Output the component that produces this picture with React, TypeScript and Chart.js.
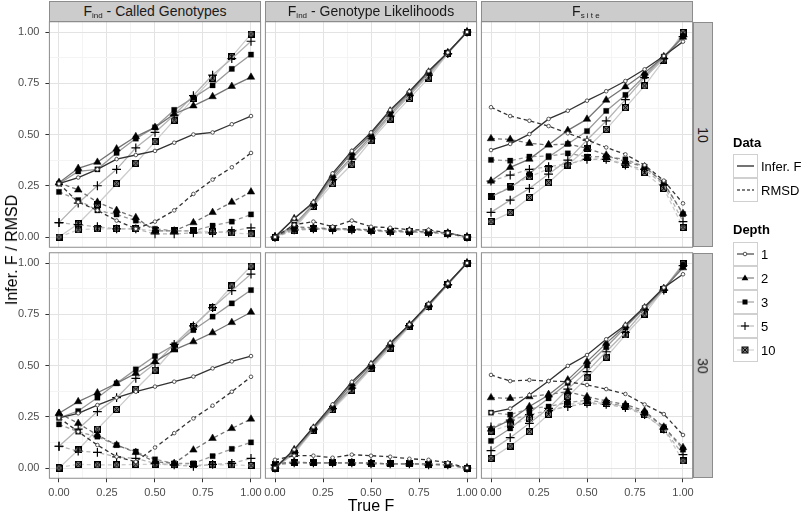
import React, { useEffect, useRef } from 'react';
import { Chart, registerables } from 'chart.js';
Chart.register(...registerables);

// ---------- data ----------
const TRUE_F = [0, 0.1, 0.2, 0.3, 0.4, 0.5, 0.6, 0.7, 0.8, 0.9, 1.0];
const DEPTHS = ['1', '2', '3', '5', '10'];
const DATA_LABELS = ['Infer. F', 'RMSD'];
const COL_TITLES = ['Called Genotypes', 'Genotype Likelihoods', ''];
const ROW_TITLES = ['10', '30'];
const AXIS_TICKS = [0, 0.25, 0.5, 0.75, 1];

// rows = depth 1, 2, 3, 5, 10
const CG10_INFER = [
  [0.26, 0.29, 0.33, 0.38, 0.40, 0.42, 0.46, 0.50, 0.51, 0.55, 0.59],
  [0.265, 0.335, 0.365, 0.43, 0.49, 0.535, 0.60, 0.64, 0.685, 0.735, 0.78],
  [0.26, 0.32, 0.33, 0.41, 0.48, 0.535, 0.62, 0.68, 0.74, 0.82, 0.89],
  [0.07, 0.165, 0.25, 0.33, 0.435, 0.51, 0.595, 0.69, 0.79, 0.87, 0.955],
  [0.0, 0.065, 0.16, 0.26, 0.36, 0.465, 0.57, 0.675, 0.775, 0.88, 0.99],
];
const CG10_RMSD = [
  [0.26, 0.17, 0.13, 0.08, 0.04, 0.075, 0.13, 0.21, 0.28, 0.34, 0.41],
  [0.265, 0.23, 0.17, 0.13, 0.095, 0.03, 0.03, 0.07, 0.12, 0.17, 0.22],
  [0.22, 0.18, 0.13, 0.11, 0.08, 0.04, 0.03, 0.03, 0.055, 0.075, 0.11],
  [0.07, 0.06, 0.05, 0.04, 0.04, 0.015, 0.015, 0.02, 0.02, 0.03, 0.045],
  [0.0, 0.035, 0.04, 0.04, 0.04, 0.03, 0.03, 0.03, 0.025, 0.02, 0.015],
];
const CG30_INFER = [
  [0.245, 0.267, 0.307, 0.343, 0.372, 0.397, 0.421, 0.446, 0.486, 0.52, 0.546],
  [0.267, 0.324, 0.367, 0.413, 0.462, 0.519, 0.576, 0.616, 0.66, 0.71, 0.76],
  [0.245, 0.278, 0.343, 0.413, 0.481, 0.546, 0.6, 0.673, 0.738, 0.803, 0.868],
  [0.106, 0.19, 0.275, 0.343, 0.437, 0.51, 0.603, 0.693, 0.782, 0.865, 0.946],
  [0.0, 0.088, 0.19, 0.286, 0.384, 0.478, 0.584, 0.69, 0.782, 0.888, 0.985],
];
const CG30_RMSD = [
  [0.245, 0.177, 0.112, 0.055, 0.03, 0.1, 0.17, 0.242, 0.304, 0.372, 0.445],
  [0.267, 0.218, 0.161, 0.112, 0.076, 0.03, 0.023, 0.088, 0.145, 0.193, 0.239],
  [0.213, 0.177, 0.153, 0.112, 0.08, 0.042, 0.023, 0.023, 0.058, 0.093, 0.125],
  [0.106, 0.083, 0.076, 0.054, 0.047, 0.023, 0.015, 0.008, 0.018, 0.023, 0.047],
  [0.003, 0.018, 0.015, 0.015, 0.018, 0.018, 0.015, 0.015, 0.015, 0.015, 0.012],
];
const GL10_INFER = [
  [0, 0.09, 0.17, 0.31, 0.42, 0.51, 0.62, 0.71, 0.81, 0.90, 1.0],
  [0, 0.09, 0.165, 0.30, 0.41, 0.50, 0.615, 0.705, 0.805, 0.90, 1.0],
  [0, 0.06, 0.16, 0.29, 0.39, 0.49, 0.60, 0.70, 0.80, 0.90, 1.0],
  [0, 0.05, 0.155, 0.28, 0.38, 0.48, 0.59, 0.69, 0.79, 0.895, 1.0],
  [0, 0.04, 0.15, 0.26, 0.355, 0.47, 0.575, 0.675, 0.775, 0.895, 1.0],
];
const GL10_RMSD = [
  [0, 0.06, 0.075, 0.05, 0.08, 0.05, 0.045, 0.035, 0.035, 0.02, 0.0],
  [0, 0.05, 0.045, 0.04, 0.04, 0.035, 0.03, 0.03, 0.025, 0.02, 0.0],
  [0, 0.04, 0.04, 0.04, 0.04, 0.03, 0.03, 0.025, 0.025, 0.015, 0.0],
  [0, 0.035, 0.04, 0.035, 0.035, 0.03, 0.025, 0.025, 0.02, 0.015, 0.0],
  [0, 0.03, 0.04, 0.04, 0.035, 0.03, 0.025, 0.025, 0.02, 0.015, 0.0],
];
const GL30_INFER = [
  [0, 0.09, 0.2, 0.31, 0.42, 0.51, 0.61, 0.70, 0.80, 0.90, 1.0],
  [0, 0.09, 0.195, 0.30, 0.41, 0.505, 0.605, 0.70, 0.795, 0.90, 1.0],
  [0, 0.08, 0.19, 0.295, 0.395, 0.495, 0.60, 0.695, 0.795, 0.895, 1.0],
  [0, 0.075, 0.19, 0.29, 0.39, 0.49, 0.595, 0.695, 0.79, 0.895, 1.0],
  [0, 0.07, 0.185, 0.285, 0.38, 0.485, 0.585, 0.69, 0.79, 0.895, 1.0],
];
const GL30_RMSD = [
  [0.04, 0.06, 0.06, 0.05, 0.065, 0.06, 0.055, 0.045, 0.04, 0.025, 0.0],
  [0.02, 0.03, 0.025, 0.025, 0.025, 0.025, 0.02, 0.02, 0.02, 0.015, 0.0],
  [0.02, 0.025, 0.025, 0.025, 0.025, 0.025, 0.02, 0.02, 0.02, 0.015, 0.0],
  [0.015, 0.025, 0.025, 0.025, 0.025, 0.02, 0.02, 0.02, 0.015, 0.015, 0.0],
  [0.015, 0.025, 0.025, 0.025, 0.025, 0.02, 0.02, 0.02, 0.015, 0.015, 0.0],
];
const FS10_INFER = [
  [0.424, 0.454, 0.502, 0.576, 0.616, 0.665, 0.711, 0.761, 0.818, 0.883, 0.953],
  [0.273, 0.34, 0.38, 0.45, 0.52, 0.575, 0.668, 0.733, 0.80, 0.88, 0.975],
  [0.197, 0.24, 0.307, 0.39, 0.454, 0.517, 0.615, 0.693, 0.785, 0.88, 0.98],
  [0.12, 0.18, 0.237, 0.307, 0.375, 0.473, 0.566, 0.67, 0.777, 0.87, 0.977],
  [0.075, 0.119, 0.193, 0.265, 0.351, 0.433, 0.525, 0.631, 0.737, 0.863, 0.997],
];
const FS10_RMSD = [
  [0.633, 0.59, 0.567, 0.541, 0.506, 0.473, 0.437, 0.403, 0.351, 0.275, 0.164],
  [0.48, 0.476, 0.457, 0.449, 0.454, 0.433, 0.40, 0.367, 0.343, 0.262, 0.115],
  [0.376, 0.372, 0.392, 0.395, 0.408, 0.392, 0.392, 0.379, 0.343, 0.265, 0.112],
  [0.273, 0.302, 0.33, 0.343, 0.356, 0.379, 0.379, 0.351, 0.33, 0.254, 0.075],
  [0.197, 0.245, 0.294, 0.332, 0.348, 0.389, 0.382, 0.356, 0.314, 0.237, 0.047],
];
const FS30_INFER = [
  [0.27, 0.29, 0.356, 0.424, 0.498, 0.551, 0.628, 0.698, 0.787, 0.88, 0.945],
  [0.19, 0.234, 0.30, 0.356, 0.43, 0.519, 0.608, 0.693, 0.782, 0.876, 0.977],
  [0.132, 0.193, 0.27, 0.34, 0.415, 0.50, 0.59, 0.685, 0.78, 0.875, 0.99],
  [0.085, 0.148, 0.218, 0.291, 0.385, 0.47, 0.567, 0.662, 0.771, 0.868, 0.987],
  [0.047, 0.107, 0.177, 0.262, 0.348, 0.44, 0.541, 0.649, 0.751, 0.873, 0.998],
];
const FS30_RMSD = [
  [0.454, 0.424, 0.429, 0.424, 0.421, 0.405, 0.385, 0.361, 0.31, 0.263, 0.161],
  [0.343, 0.34, 0.348, 0.359, 0.372, 0.348, 0.327, 0.31, 0.278, 0.2, 0.1],
  [0.27, 0.26, 0.29, 0.30, 0.32, 0.33, 0.32, 0.30, 0.27, 0.2, 0.09],
  [0.2, 0.234, 0.26, 0.28, 0.3, 0.315, 0.31, 0.295, 0.26, 0.19, 0.065],
  [0.18, 0.21, 0.24, 0.27, 0.31, 0.32, 0.315, 0.30, 0.26, 0.19, 0.035],
];

const PANELS = [
  { infer: CG10_INFER, rmsd: CG10_RMSD, row: 0, col: 0 },
  { infer: GL10_INFER, rmsd: GL10_RMSD, row: 0, col: 1 },
  { infer: FS10_INFER, rmsd: FS10_RMSD, row: 0, col: 2 },
  { infer: CG30_INFER, rmsd: CG30_RMSD, row: 1, col: 0 },
  { infer: GL30_INFER, rmsd: GL30_RMSD, row: 1, col: 1 },
  { infer: FS30_INFER, rmsd: FS30_RMSD, row: 1, col: 2 },
];

// ---------- layout / style ----------
const W = 810;
const H = 515;
const COL_LEFT = [49.4, 265.4, 481.4];
const PANEL_W = 211.2;
const ROW_TOP = [21.75, 252.75];
const PANEL_H = 225.5;
const XAXIS_H = 24;
const FONT = "'Liberation Sans', Arial, Helvetica, sans-serif";
const LINE_GREYS = ['#333333', '#747474', '#989898', '#B4B4B4', '#CCCCCC'];

function squareX(): HTMLCanvasElement {
  const c = document.createElement('canvas');
  c.width = 7;
  c.height = 7;
  const g = c.getContext('2d')!;
  g.fillStyle = '#7a7a7a';
  g.fillRect(0, 0, 7, 7);
  g.strokeStyle = '#000';
  g.lineWidth = 1;
  g.strokeRect(0.5, 0.5, 6, 6);
  g.beginPath();
  g.moveTo(1, 1);
  g.lineTo(6, 6);
  g.moveTo(6, 1);
  g.lineTo(1, 6);
  g.stroke();
  return c;
}

const isMajor = (v: number) => Math.abs(v * 4 - Math.round(v * 4)) < 1e-6;

const borderPlugin = {
  id: 'panelBorder',
  afterDraw(chart: any) {
    const { ctx, chartArea: a } = chart;
    ctx.save();
    ctx.strokeStyle = '#8C8C8C';
    ctx.lineWidth = 1;
    ctx.strokeRect(a.left, a.top, a.width, a.height);
    ctx.restore();
  },
};

function makeConfig(p: { infer: number[][]; rmsd: number[][]; row: number; col: number }, sqx: HTMLCanvasElement) {
  const styles: any[] = [
    { pointStyle: 'circle', pointRadius: 1.8, bg: '#ffffff', bc: '#444444', bw: 0.9 },
    { pointStyle: 'triangle', pointRadius: 4.3, bg: '#000000', bc: '#000000', bw: 0.5 },
    { pointStyle: 'rect', pointRadius: 3.7, bg: '#000000', bc: '#000000', bw: 0.3 },
    { pointStyle: 'cross', pointRadius: 4.4, bg: '#000000', bc: '#000000', bw: 1.2 },
    { pointStyle: sqx, pointRadius: 3.5, bg: '#000000', bc: '#000000', bw: 1 },
  ];
  const datasets: any[] = [];
  DEPTHS.forEach((d, i) => {
    [p.infer, p.rmsd].forEach((arr, m) => {
      const s = styles[i];
      datasets.push({
        label: `${DATA_LABELS[m]} / depth ${d}`,
        data: TRUE_F.map((x, k) => ({ x, y: arr[i][k] })),
        borderColor: LINE_GREYS[i],
        borderWidth: 1.3,
        borderDash: m === 1 ? [4, 3] : [],
        pointStyle: s.pointStyle,
        pointRadius: s.pointRadius,
        pointBackgroundColor: s.bg,
        pointBorderColor: s.bc,
        pointBorderWidth: s.bw,
        tension: 0,
        fill: false,
        clip: 6,
      });
    });
  });

  const left = p.col === 0 ? 0 : COL_LEFT[p.col];
  const yAxisW = p.col === 0 ? COL_LEFT[0] : 0;
  const right = W - (COL_LEFT[p.col] + PANEL_W);
  const top = ROW_TOP[p.row];
  const xAxisH = p.row === 1 ? XAXIS_H : 0;
  const bottom = H - (ROW_TOP[p.row] + PANEL_H) - xAxisH;
  const setTicks = (scale: any) => {
    const t: any[] = [];
    for (let k = 0; k <= 8; k++) t.push({ value: k * 0.125 });
    scale.ticks = t;
  };
  const gridColor = (ctx: any) => (ctx.tick && isMajor(ctx.tick.value) ? '#E3E3E3' : '#F4F4F4');
  const tickColor = (ctx: any) => (ctx.tick && isMajor(ctx.tick.value) ? '#333333' : 'rgba(0,0,0,0)');
  const label = (v: any) =>
    isMajor(Number(v)) && AXIS_TICKS.includes(Math.round(Number(v) * 100) / 100) ? Number(v).toFixed(2) : '';

  return {
    type: 'line',
    data: { datasets },
    options: {
      animation: false,
      responsive: false,
      events: [],
      layout: { padding: { left, right, top, bottom } },
      plugins: { legend: { display: false }, tooltip: { enabled: false } },
      scales: {
        x: {
          type: 'linear',
          min: -0.05,
          max: 1.05,
          afterBuildTicks: setTicks,
          afterFit: (s: any) => {
            s.height = xAxisH;
          },
          border: { display: false },
          grid: { color: gridColor, lineWidth: 1, drawTicks: p.row === 1, tickLength: 4, tickColor, tickWidth: 1 },
          ticks: {
            display: p.row === 1,
            autoSkip: false,
            maxRotation: 0,
            padding: 4,
            color: '#4D4D4D',
            font: { family: FONT, size: 11 },
            callback: label,
          },
        },
        y: {
          type: 'linear',
          min: -0.05,
          max: 1.05,
          afterBuildTicks: setTicks,
          afterFit: (s: any) => {
            s.width = yAxisW;
          },
          border: { display: false },
          grid: { color: gridColor, lineWidth: 1, drawTicks: p.col === 0, tickLength: 4, tickColor, tickWidth: 1 },
          ticks: {
            display: p.col === 0,
            autoSkip: false,
            padding: 6,
            color: '#4D4D4D',
            font: { family: FONT, size: 11 },
            callback: label,
          },
        },
      },
    },
    plugins: [borderPlugin],
  } as any;
}

// ---------- legend glyphs ----------
function Marker({ i }: { i: number }) {
  const c = 12;
  if (i === 0) return <circle cx={c} cy={c} r={1.8} fill="#fff" stroke="#444" strokeWidth={0.9} />;
  if (i === 1) return <polygon points={`${c},${c - 3.6} ${c + 3.4},${c + 2.2} ${c - 3.4},${c + 2.2}`} fill="#000" />;
  if (i === 2) return <rect x={c - 2.5} y={c - 2.5} width={5} height={5} fill="#000" />;
  if (i === 3)
    return (
      <g stroke="#000" strokeWidth={1.1}>
        <line x1={c - 4} y1={c} x2={c + 4} y2={c} />
        <line x1={c} y1={c - 4} x2={c} y2={c + 4} />
      </g>
    );
  return (
    <g>
      <rect x={c - 3} y={c - 3} width={6} height={6} fill="#7a7a7a" stroke="#000" strokeWidth={1} />
      <line x1={c - 2.5} y1={c - 2.5} x2={c + 2.5} y2={c + 2.5} stroke="#000" strokeWidth={0.9} />
      <line x1={c + 2.5} y1={c - 2.5} x2={c - 2.5} y2={c + 2.5} stroke="#000" strokeWidth={0.9} />
    </g>
  );
}

const keyBox: React.CSSProperties = {
  position: 'absolute',
  width: 25,
  height: 24,
  boxSizing: 'border-box',
  border: '1px solid #D0D0D0',
  background: '#fff',
};

export default function App() {
  const refs = useRef<(HTMLCanvasElement | null)[]>([]);
  useEffect(() => {
    const sqx = squareX();
    const charts = PANELS.map((p, idx) => new Chart(refs.current[idx] as HTMLCanvasElement, makeConfig(p, sqx)));
    return () => charts.forEach((c) => c.destroy());
  }, []);

  const stripBase: React.CSSProperties = {
    position: 'absolute',
    boxSizing: 'border-box',
    background: '#CCCCCC',
    border: '1px solid #8C8C8C',
    color: '#1A1A1A',
    fontFamily: FONT,
    display: 'flex',
    alignItems: 'center',
    justifyContent: 'center',
    whiteSpace: 'nowrap',
  };
  const sub: React.CSSProperties = { fontSize: 8, position: 'relative', top: 4 };

  const dataRows = [154, 178];
  const depthRows = [242, 266, 290, 314, 338];

  return (
    <div style={{ position: 'absolute', left: 0, top: 0, width: W, height: H, background: '#fff', fontFamily: FONT }}>
      {PANELS.map((p, idx) => (
        <canvas
          key={idx}
          ref={(el) => {
            refs.current[idx] = el;
          }}
          width={W}
          height={H}
          style={{ position: 'absolute', left: 0, top: 0, width: W, height: H }}
        />
      ))}

      {/* top strips */}
      {COL_LEFT.map((x, c) => (
        <div key={'ts' + c} style={{ ...stripBase, left: x, top: 1, width: PANEL_W, height: 20.5, fontSize: 14 }}>
          <span>F</span>
          {c < 2 ? (
            <>
              <span style={sub}>ind</span>
              <span>&nbsp;- {COL_TITLES[c]}</span>
            </>
          ) : (
            <span style={{ ...sub, letterSpacing: 2.2 }}>site</span>
          )}
        </div>
      ))}

      {/* right strips */}
      {ROW_TOP.map((y, r) => (
        <div key={'rs' + r} style={{ ...stripBase, left: 693, top: y, width: 20, height: PANEL_H, fontSize: 14 }}>
          <span style={{ display: 'inline-block', transform: 'rotate(90deg)' }}>{ROW_TITLES[r]}</span>
        </div>
      ))}

      {/* axis titles */}
      <div
        style={{
          position: 'absolute',
          left: 12,
          top: 250,
          transform: 'translate(-50%, -50%) rotate(-90deg)',
          fontSize: 16,
          whiteSpace: 'nowrap',
          color: '#000',
        }}
      >
        Infer. F / RMSD
      </div>
      <div
        style={{
          position: 'absolute',
          left: 371,
          top: 506,
          transform: 'translate(-50%, -50%)',
          fontSize: 16,
          whiteSpace: 'nowrap',
          color: '#000',
        }}
      >
        True F
      </div>

      {/* legend: Data */}
      <div style={{ position: 'absolute', left: 733, top: 135, fontSize: 13, fontWeight: 'bold' }}>Data</div>
      {dataRows.map((y, m) => (
        <React.Fragment key={'dk' + m}>
          <div style={{ ...keyBox, left: 733, top: y }}>
            <svg width={25} height={24} style={{ position: 'absolute', left: -1, top: -1 }}>
              <line
                x1={4}
                y1={12}
                x2={21}
                y2={12}
                stroke="#000"
                strokeWidth={1.1}
                strokeDasharray={m === 1 ? '3 2' : undefined}
              />
            </svg>
          </div>
          <div style={{ position: 'absolute', left: 761, top: y + 12, transform: 'translateY(-50%)', fontSize: 13 }}>
            {DATA_LABELS[m]}
          </div>
        </React.Fragment>
      ))}

      {/* legend: Depth */}
      <div style={{ position: 'absolute', left: 733, top: 222, fontSize: 13, fontWeight: 'bold' }}>Depth</div>
      {depthRows.map((y, i) => (
        <React.Fragment key={'pk' + i}>
          <div style={{ ...keyBox, left: 733, top: y }}>
            <svg width={25} height={24} style={{ position: 'absolute', left: -1, top: -1 }}>
              <line x1={4} y1={12} x2={21} y2={12} stroke={LINE_GREYS[i]} strokeWidth={1.1} />
              <Marker i={i} />
            </svg>
          </div>
          <div style={{ position: 'absolute', left: 761, top: y + 12, transform: 'translateY(-50%)', fontSize: 13 }}>
            {DEPTHS[i]}
          </div>
        </React.Fragment>
      ))}
    </div>
  );
}
